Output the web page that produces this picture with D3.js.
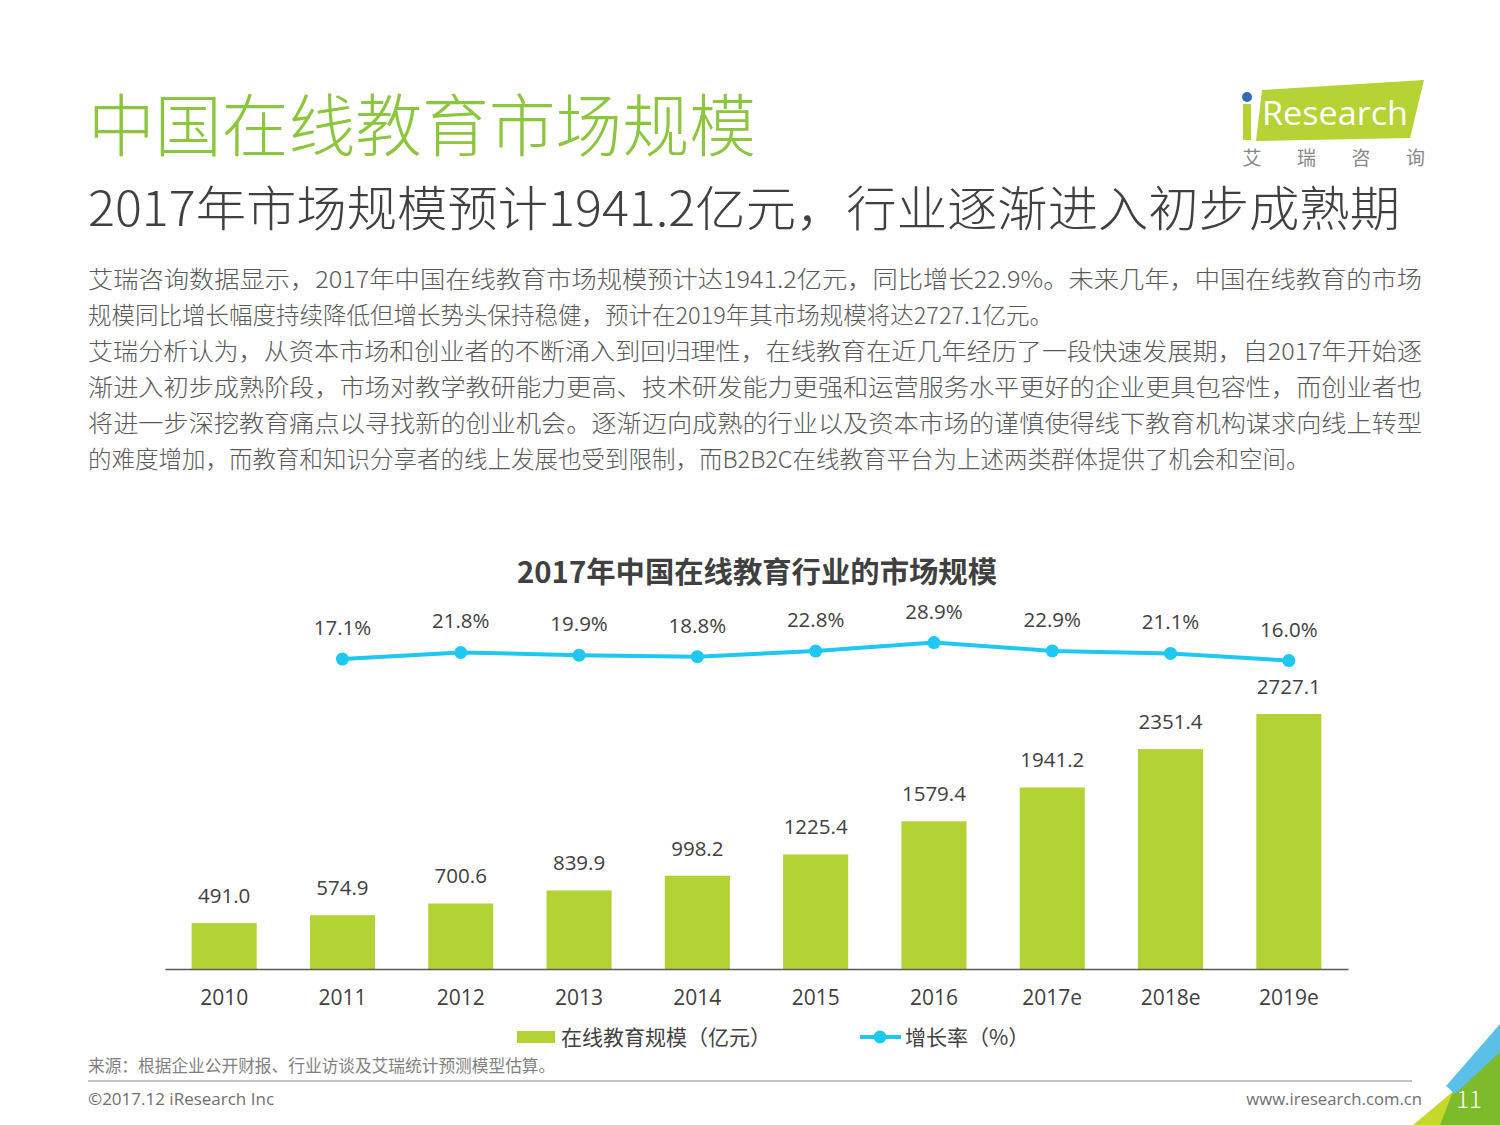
<!DOCTYPE html>
<html><head><meta charset="utf-8">
<script src="https://cdn.jsdelivr.net/npm/d3@7"></script>
<style>
html,body{margin:0;padding:0;background:#fff;}
svg{display:block;font-family:"Noto Sans CJK SC","Noto Sans",sans-serif;}
</style></head>
<body>
<script>
const categories = ["2010","2011","2012","2013","2014","2015","2016","2017e","2018e","2019e"];
const marketSize = [491.0,574.9,700.6,839.9,998.2,1225.4,1579.4,1941.2,2351.4,2727.1];
const growthRate = [17.1,21.8,19.9,18.8,22.8,28.9,22.9,21.1,16.0];
const growthCats = categories.slice(1);
const bodyLines = [
 "艾瑞咨询数据显示，2017年中国在线教育市场规模预计达1941.2亿元，同比增长22.9%。未来几年，中国在线教育的市场",
 "规模同比增长幅度持续降低但增长势头保持稳健，预计在2019年其市场规模将达2727.1亿元。",
 "艾瑞分析认为，从资本市场和创业者的不断涌入到回归理性，在线教育在近几年经历了一段快速发展期，自2017年开始逐",
 "渐进入初步成熟阶段，市场对教学教研能力更高、技术研发能力更强和运营服务水平更好的企业更具包容性，而创业者也",
 "将进一步深挖教育痛点以寻找新的创业机会。逐渐迈向成熟的行业以及资本市场的谨慎使得线下教育机构谋求向线上转型",
 "的难度增加，而教育和知识分享者的线上发展也受到限制，而B2B2C在线教育平台为上述两类群体提供了机会和空间。"
];
const justified = [true,false,true,true,true,false];

const W=1500,H=1125;
const svg=d3.select("body").append("svg").attr("width",W).attr("height",H);

// Title
svg.append("text").attr("x",88).attr("y",151).attr("font-size",68).attr("font-weight",300)
 .attr("fill","#8cc63e").attr("textLength",668).attr("lengthAdjust","spacingAndGlyphs")
 .text("中国在线教育市场规模");
svg.append("text").attr("x",88).attr("y",226).attr("font-size",48).attr("font-weight",300).attr("fill","#404040")
 .attr("textLength",1312).attr("lengthAdjust","spacingAndGlyphs")
 .text("2017年市场规模预计1941.2亿元，行业逐渐进入初步成熟期");

// Body
bodyLines.forEach((t,i)=>{
  const tx=svg.append("text").attr("x",88).attr("y",288+i*36).attr("font-size",23.5).attr("font-weight",300).attr("fill","#595959").text(t);
  if(justified[i]) tx.attr("textLength",1334).attr("lengthAdjust","spacingAndGlyphs");
});

// Logo
const logo=svg.append("g");
logo.append("path").attr("d","M1262,90 L1424,80 L1410,138 L1256,141 Z").attr("fill","#b5d334");
logo.append("rect").attr("x",1243).attr("y",104).attr("width",8).attr("height",36).attr("fill","#b5d334");
logo.append("circle").attr("cx",1247).attr("cy",97).attr("r",5).attr("fill","#2e6db4");
logo.append("text").attr("x",1262).attr("y",125).attr("font-family","'Open Sans',sans-serif").attr("font-size",33)
 .attr("fill","#fff").attr("textLength",146).attr("lengthAdjust","spacingAndGlyphs").text("Research");
["艾","瑞","咨","询"].forEach((c,i)=>{
  logo.append("text").attr("x",1252+i*54.5).attr("y",165).attr("text-anchor","middle").attr("font-size",19)
   .attr("fill","#888").text(c);
});

// Chart title
svg.append("text").attr("x",757).attr("y",583).attr("text-anchor","middle").attr("font-size",29).attr("font-weight","bold")
 .attr("fill","#404040").attr("textLength",480).attr("lengthAdjust","spacingAndGlyphs").text("2017年中国在线教育行业的市场规模");

// Scales
const x=d3.scaleBand().domain(categories).range([165,1348]).paddingInner(0.45).paddingOuter(0.225);
const y=d3.scaleLinear().domain([0,2727.1]).range([969,714]);
const y2=d3.scaleLinear().domain([0,30]).range([683,641]);

// Bars
svg.append("g").selectAll("rect").data(marketSize).join("rect")
 .attr("x",(d,i)=>x(categories[i])).attr("width",x.bandwidth())
 .attr("y",d=>y(d)).attr("height",d=>y(0)-y(d)).attr("fill","#b3d234");
svg.append("g").selectAll("text").data(marketSize).join("text")
 .attr("x",(d,i)=>x(categories[i])+x.bandwidth()/2).attr("y",d=>y(d)-20)
 .attr("text-anchor","middle").attr("font-family","'Open Sans','Noto Sans',sans-serif").attr("font-size",20.5).attr("fill","#404040")
 .text(d=>d.toFixed(1));

// Axis
const xAxis=svg.append("g").attr("transform","translate(0,969)")
 .call(d3.axisBottom(x).tickSize(0).tickPadding(21).tickSizeOuter(0));
xAxis.select(".domain").attr("stroke","#595959").attr("stroke-width",1.3);
xAxis.selectAll("text").attr("font-family","'Open Sans','Noto Sans',sans-serif").attr("font-size",21).attr("fill","#404040");

// Line
const cx=c=>x(c)+x.bandwidth()/2;
svg.append("path").datum(growthRate).attr("fill","none").attr("stroke","#1fc8f0").attr("stroke-width",4)
 .attr("d",d3.line().x((d,i)=>cx(growthCats[i])).y(d=>y2(d)));
svg.append("g").selectAll("circle").data(growthRate).join("circle")
 .attr("cx",(d,i)=>cx(growthCats[i])).attr("cy",d=>y2(d)).attr("r",6.5).attr("fill","#1fc8f0");
svg.append("g").selectAll("text").data(growthRate).join("text")
 .attr("x",(d,i)=>cx(growthCats[i])).attr("y",d=>y2(d)-24)
 .attr("text-anchor","middle").attr("font-family","'Open Sans','Noto Sans',sans-serif").attr("font-size",20.5).attr("fill","#404040")
 .text(d=>d.toFixed(1)+"%");

// Legend
svg.append("rect").attr("x",517).attr("y",1031).attr("width",38).attr("height",12).attr("fill","#b3d234");
svg.append("text").attr("x",561).attr("y",1045).attr("font-size",21).attr("fill","#404040").text("在线教育规模（亿元）");
svg.append("line").attr("x1",860).attr("x2",901).attr("y1",1037).attr("y2",1037).attr("stroke","#1fc8f0").attr("stroke-width",4);
svg.append("circle").attr("cx",880).attr("cy",1037).attr("r",6.5).attr("fill","#1fc8f0");
svg.append("text").attr("x",905).attr("y",1045).attr("font-size",21).attr("fill","#404040").text("增长率（%）");

// Footer
svg.append("text").attr("x",88).attr("y",1072).attr("font-size",16.7).attr("fill","#7f7f7f").text("来源：根据企业公开财报、行业访谈及艾瑞统计预测模型估算。");
svg.append("line").attr("x1",88).attr("x2",1412).attr("y1",1081).attr("y2",1081).attr("stroke","#8c8c8c").attr("stroke-width",1.2);
svg.append("text").attr("x",88).attr("y",1105).attr("font-family","'Open Sans','Noto Sans',sans-serif").attr("font-size",17).attr("fill","#6f6f6f").text("©2017.12 iResearch Inc");
svg.append("text").attr("x",1422).attr("y",1105).attr("text-anchor","end").attr("font-family","'Open Sans','Noto Sans',sans-serif").attr("font-size",16.7).attr("fill","#6f6f6f").text("www.iresearch.com.cn");

// Corner decoration
svg.append("path").attr("d","M1413,1125 L1456,1089 L1475,1125 Z").attr("fill","#c6d82a");
svg.append("path").attr("d","M1452,1094 L1500,1050 L1500,1125 L1440,1125 Z").attr("fill","#7dbb2a");
svg.append("path").attr("d","M1446,1086 L1500,1024 L1500,1052 L1455,1094 Z").attr("fill","#5bc0e8");
svg.append("text").attr("x",1469).attr("y",1108).attr("text-anchor","middle").attr("font-size",24).attr("font-weight",300).attr("fill","#fff").text("11");
</script>
</body></html>
